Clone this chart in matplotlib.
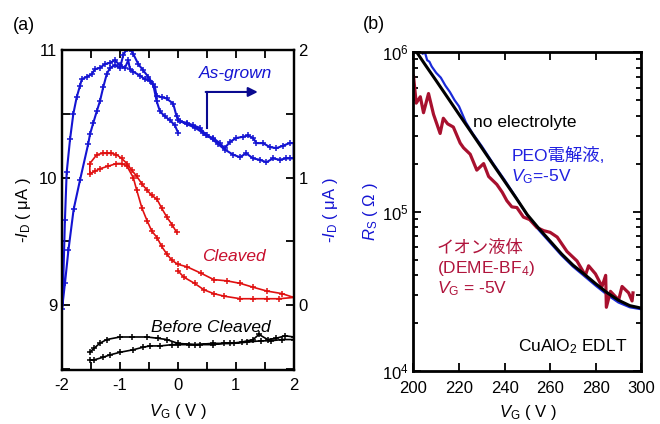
import numpy as np
import matplotlib
matplotlib.use("Agg")
import matplotlib.pyplot as plt
from matplotlib.ticker import MultipleLocator, NullFormatter

plt.rcParams['font.family'] = ['Liberation Sans', 'Noto Sans CJK JP', 'DejaVu Sans']
plt.rcParams['mathtext.fontset'] = 'custom'
plt.rcParams['mathtext.rm'] = 'Liberation Sans'
plt.rcParams['mathtext.it'] = 'Liberation Sans:italic'
plt.rcParams['font.size'] = 12
plt.rcParams['axes.unicode_minus'] = False

# ---- panel (a): -I_D vs V_G ----
# as-grown (right axis, uA): 0 -> -2 -> +2 -> 0
vg_asgrown = [0.005, -0.052, -0.138, -0.224, -0.31, -0.367, -0.426, -0.512, -0.598, -0.684,
              -0.771, -0.83, -0.884, -0.943, -1.0, -1.086, -1.172, -1.229, -1.288, -1.345,
              -1.40, -1.46, -1.517, -1.55, -1.69, -1.8, -1.89, -1.95, -2.0,
              -1.98, -1.95, -1.92, -1.862, -1.805, -1.747, -1.69, -1.66, -1.574, -1.488,
              -1.431, -1.345, -1.259, -1.172, -1.086, -1.0, -0.914, -0.857, -0.828, -0.771,
              -0.655, -0.569, -0.483, -0.397, -0.367, -0.28, -0.195, -0.081, -0.022, 0.034,
              0.15, 0.264, 0.379, 0.494, 0.609, 0.724, 0.81, 0.897, 1.01, 1.126, 1.21, 1.30,
              1.356, 1.47, 1.586, 1.70, 1.816, 1.93, 2.0,
              2.0, 1.93, 1.87, 1.76, 1.64, 1.53, 1.41, 1.30, 1.18, 1.07, 0.953, 0.81, 0.7,
              0.6, 0.5, 0.436, 0.3, 0.15, 0.0]
id_asgrown = [1.35, 1.41, 1.45, 1.48, 1.52, 1.60, 1.73, 1.79, 1.84, 1.89,
              1.97, 2.01, 2.01, 1.96, 1.86, 1.88, 1.86, 1.81, 1.71, 1.60,
              1.52, 1.43, 1.34, 1.26, 0.98, 0.75, 0.43, 0.17, -0.03,
              0.17, 0.67, 1.04, 1.30, 1.50, 1.63, 1.72, 1.77, 1.79, 1.81,
              1.85, 1.86, 1.89, 1.90, 1.92, 1.88, 1.86, 1.92, 1.85, 1.83,
              1.80, 1.77, 1.76, 1.71, 1.64, 1.63, 1.62, 1.58, 1.48, 1.44,
              1.43, 1.41, 1.39, 1.33, 1.31, 1.27, 1.23, 1.28, 1.31, 1.32, 1.33, 1.31,
              1.27, 1.27, 1.24, 1.23, 1.25, 1.27, 1.27,
              1.15, 1.15, 1.15, 1.14, 1.15, 1.12, 1.14, 1.15, 1.19, 1.16, 1.18, 1.22, 1.26,
              1.30, 1.33, 1.35, 1.39, 1.42, 1.45]

# cleaved (left axis, uA)
vg_cleaved = [0.0, 0.1, 0.29, 0.45, 0.62, 0.8, 1.08, 1.3, 1.54, 1.75, 2.0,
              1.8, 1.54, 1.3, 1.08, 0.85, 0.62, 0.4, 0.16, 0.0, -0.1, -0.19, -0.28, -0.36,
              -0.45, -0.53, -0.62, -0.71, -0.77, -0.88, -0.97, -1.06, -1.2, -1.34, -1.43, -1.52,
              -1.52, -1.4, -1.3, -1.23, -1.15, -1.06, -0.97, -0.88, -0.8, -0.71, -0.62, -0.53,
              -0.45, -0.36, -0.28, -0.19, -0.1, -0.02]
id_cleaved = [9.27, 9.22, 9.17, 9.12, 9.09, 9.07, 9.05, 9.05, 9.05, 9.05, 9.06,
              9.09, 9.11, 9.14, 9.17, 9.19, 9.20, 9.25, 9.30, 9.32, 9.35, 9.40, 9.46, 9.53,
              9.58, 9.66, 9.76, 9.90, 10.00, 10.09, 10.11, 10.11, 10.09, 10.07, 10.05, 10.03,
              10.11, 10.18, 10.19, 10.19, 10.19, 10.18, 10.15, 10.11, 10.06, 10.01, 9.95, 9.90,
              9.86, 9.83, 9.76, 9.69, 9.63, 9.57]

# before cleaved (left axis, uA)
vg_before = [-1.52, -1.45, -1.3, -1.17, -1.0, -0.77, -0.6, -0.48, -0.3, -0.1, 0.0, 0.2,
             0.39, 0.6, 0.8, 0.97, 1.2, 1.43, 1.6, 1.8, 2.0,
             2.0, 1.85, 1.7, 1.55, 1.4, 1.3, 1.1, 0.9, 0.6, 0.3, 0.0, -0.19, -0.35,
             -0.53, -0.8, -1.0, -1.23, -1.35, -1.45, -1.52]
id_before = [8.57, 8.57, 8.59, 8.61, 8.63, 8.65, 8.67, 8.68, 8.68, 8.69, 8.69, 8.69,
             8.69, 8.69, 8.70, 8.70, 8.71, 8.72, 8.72, 8.73, 8.73,
             8.75, 8.76, 8.74, 8.73, 8.77, 8.73, 8.71, 8.70, 8.70, 8.69, 8.70, 8.73, 8.74,
             8.75, 8.75, 8.75, 8.73, 8.70, 8.66, 8.63]

# ---- panel (b): R_S vs V_G ----
vg_none = [201.4, 205, 210, 215, 220, 225, 230, 235, 240, 245, 250, 255, 260, 265,
           270, 275, 280, 285, 290, 295, 300]
rs_none = [1.00e6, 8.39e5, 6.61e5, 5.19e5, 4.07e5, 3.20e5, 2.51e5, 1.97e5, 1.55e5, 1.22e5,
           9.55e4, 7.85e4, 6.53e4, 5.43e4, 4.62e4, 4.05e4, 3.53e4, 3.10e4, 2.78e4, 2.57e4, 2.48e4]

vg_peo = [203, 204, 205, 206, 207, 208, 210, 212, 214, 216, 218, 220, 223, 226, 230, 235,
          240, 245, 250, 255, 260, 265, 270, 275, 280, 285, 290, 295, 300]
rs_peo = [1.10e6, 9.77e5, 1.00e6, 8.91e5, 8.71e5, 8.13e5, 7.41e5, 6.92e5, 6.17e5, 5.62e5,
          5.01e5, 4.57e5, 3.63e5, 3.09e5, 2.57e5, 2.00e5, 1.58e5, 1.23e5, 9.44e4, 7.67e4,
          6.38e4, 5.31e4, 4.52e4, 3.94e4, 3.43e4, 3.01e4, 2.69e4, 2.51e4, 2.44e4]

vg_ionic = [200, 201.2, 203, 204.4, 206.6, 208.8, 211.7, 213.1, 215, 217.5, 220.5, 222,
            224.9, 227.8, 230.8, 233, 236.6, 239, 241, 243.2, 245.4, 248.3, 251, 254.2,
            257.2, 260, 263.1, 267.4, 271.8, 275.5, 276.9, 279.9, 282.8, 284.4, 284.7,
            286.5, 290.1, 291.6, 294.5, 296, 296.4]
rs_ionic = [7.08e5, 4.79e5, 5.25e5, 4.17e5, 5.50e5, 4.07e5, 3.09e5, 3.85e5, 3.55e5, 3.39e5,
            2.69e5, 2.51e5, 2.29e5, 1.82e5, 2.00e5, 1.66e5, 1.48e5, 1.32e5, 1.17e5, 1.07e5,
            1.06e5, 9.23e4, 8.91e4, 7.94e4, 7.59e4, 7.41e4, 6.92e4, 5.62e4, 4.90e4, 3.98e4,
            4.57e4, 4.07e4, 3.39e4, 3.98e4, 2.51e4, 3.16e4, 2.79e4, 3.39e4, 3.09e4, 2.75e4,
            3.09e4]

blue = '#1414d2'
red = '#e01010'
wine = '#a8102e'

fig = plt.figure(figsize=(6.6, 4.24), dpi=100)

# ================= (a) =================
ax = fig.add_axes([0.094, 0.127, 0.351, 0.755])
ax.plot(vg_cleaved, id_cleaved, color=red, lw=1.2, marker='+', ms=5, mew=1.1)
ax.plot(vg_before, id_before, color='black', lw=1.2, marker='+', ms=5, mew=1.1)
ax.set_xlim(-2, 2)
ax.set_ylim(8.49, 11)
ax.xaxis.set_major_locator(MultipleLocator(1))
ax.xaxis.set_minor_locator(MultipleLocator(0.5))
ax.yaxis.set_major_locator(MultipleLocator(1))
ax.yaxis.set_minor_locator(MultipleLocator(0.5))
ax.tick_params(which='both', direction='in', top=True, right=False, width=1.3)
ax.tick_params(which='major', length=6, labelsize=12)
ax.tick_params(which='minor', length=6)
ax.tick_params(axis='x', which='major', pad=6)
for s in ax.spines.values():
    s.set_linewidth(1.6)
ax.set_xlabel(r'$V_\mathrm{G}$ ( V )', fontsize=12)
ax.set_ylabel(r'-$I_\mathrm{D}$ ( μA )', fontsize=12)
ax.xaxis.set_label_coords(0.5, -0.1)
ax.yaxis.set_label_coords(-0.125, 0.5)

ax2 = ax.twinx()
ax2.plot(vg_asgrown, id_asgrown, color=blue, lw=1.5, marker='+', ms=4, mew=1.1)
ax2.set_ylim(-0.51, 2)
ax2.yaxis.set_major_locator(MultipleLocator(1))
ax2.yaxis.set_minor_locator(MultipleLocator(0.5))
ax2.tick_params(which='both', direction='in', width=1.3, length=6, labelsize=12)
ax2.set_ylabel(r'-$I_\mathrm{D}$ ( μA )', color=blue, fontsize=12)
ax2.yaxis.set_label_coords(1.12, 0.5)
for s in ax2.spines.values():
    s.set_linewidth(1.6)

ax.text(0.75, 0.928, 'As-grown', transform=ax.transAxes, color=blue, style='italic',
        fontsize=12.5, ha='center', va='center')
ax.text(0.741, 0.356, 'Cleaved', transform=ax.transAxes, color='#c8102e', style='italic',
        fontsize=12.5, ha='center', va='center')
ax.text(0.642, 0.134, 'Before Cleaved', transform=ax.transAxes, color='black', style='italic',
        fontsize=12.5, ha='center', va='center')
ax.plot([0.624, 0.624], [0.756, 0.869], transform=ax.transAxes, color='#0a0a90', lw=1.5)
ax.annotate('', xy=(0.845, 0.869), xytext=(0.62, 0.869), xycoords='axes fraction',
            arrowprops=dict(arrowstyle='-|>', color='#0a0a90', lw=1.5, mutation_scale=14,
                            shrinkA=0, shrinkB=0))

# ================= (b) =================
bx = fig.add_axes([0.6265, 0.125, 0.345, 0.752])
bx.plot(vg_peo, rs_peo, color='#1a2ad8', lw=1.6)
bx.plot(vg_ionic, rs_ionic, color=wine, lw=2.3)
bx.plot(vg_none, rs_none, color='black', lw=2.2)
bx.set_yscale('log')
bx.set_xlim(200, 300)
bx.set_ylim(1e4, 1e6)
bx.set_xticks([200, 220, 240, 260, 280, 300])
bx.yaxis.set_minor_formatter(NullFormatter())
bx.tick_params(which='both', direction='in', top=True, right=True, width=1.3)
bx.tick_params(which='major', length=6, labelsize=12)
bx.tick_params(which='minor', length=3.5)
bx.tick_params(axis='x', which='major', pad=7)
for s in bx.spines.values():
    s.set_linewidth(2)
bx.set_xlabel(r'$V_\mathrm{G}$ ( V )', fontsize=12)
bx.set_ylabel(r'$R_\mathrm{S}$ ( Ω )', color=blue, fontsize=12)
bx.xaxis.set_label_coords(0.5, -0.1)
bx.yaxis.set_label_coords(-0.147, 0.5)

bx.text(0.262, 0.78, 'no electrolyte', transform=bx.transAxes, fontsize=12.5, va='center')
bx.text(0.429, 0.677, 'PEO電解液,', transform=bx.transAxes, fontsize=12.5, va='center',
        color='#2020e0')
bx.text(0.429, 0.608, r'$V_\mathrm{G}$=-5V', transform=bx.transAxes, fontsize=12.5,
        va='center', color='#2020e0')
bx.text(0.103, 0.386, 'イオン液体', transform=bx.transAxes, fontsize=12.5, va='center',
        color='#b0143c')
bx.text(0.103, 0.323, r'(DEME-BF$_4$)', transform=bx.transAxes, fontsize=12.5, va='center',
        color='#b0143c')
bx.text(0.103, 0.257, r'$V_\mathrm{G}$ = -5V', transform=bx.transAxes, fontsize=12.5,
        va='center', color='#b0143c')
bx.text(0.94, 0.075, r'CuAlO$_2$ EDLT', transform=bx.transAxes, fontsize=12.5,
        va='center', ha='right')

fig.text(0.02, 0.941, '(a)', fontsize=13, va='center')
fig.text(0.55, 0.943, '(b)', fontsize=13, va='center')

fig.savefig('out.png', dpi=100)
